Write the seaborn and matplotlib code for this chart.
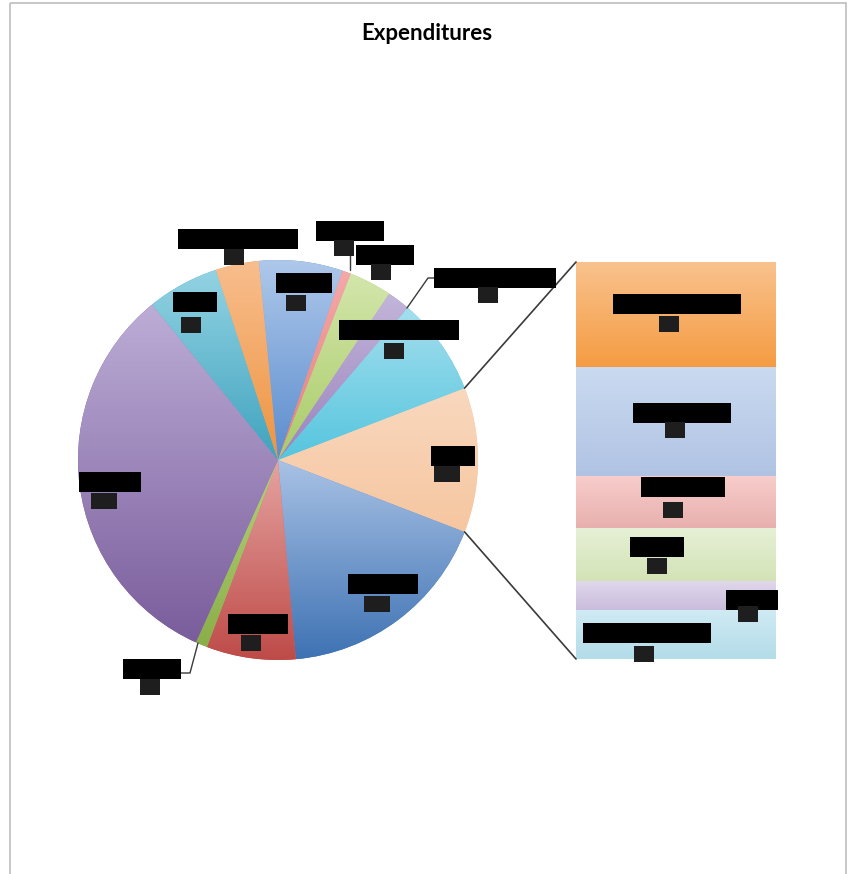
import numpy as np
import matplotlib
matplotlib.use("Agg")
import matplotlib.pyplot as plt
import matplotlib.colors as mcolors
from matplotlib.patches import ConnectionPatch, Rectangle
import seaborn as sns

# --- data (percent of total expenditures) ---
# main pie slices, clockwise starting after the "Other" slice
pie_names = ["Personnel", "Benefits", "Mileage", "Program", "Taxes",
             "Professional Fees", "Utilities", "Insurance", "Postage",
             "Equipment Rental", "Contract Services"]
pie_values = [17.7, 7.2, 0.95, 32.4, 5.8, 3.5, 6.75, 0.7, 3.45, 1.85, 7.9]

# slices split out into the bar (top to bottom)
bar_names = ["Staff Development", "Printing Costs", "Publications",
             "Phones", "Capital", "Computer Supplies"]
bar_values = [3.1, 3.2, 1.55, 1.55, 0.85, 1.45]

other_name = "Other"

# --- styles ---
pie_tops = ["#F9D8BE", "#A9C2E5", "#E5A3A1", "#B5D27A", "#BCADD6", "#93D3E3",
            "#F8BE8E", "#AEC8EA", "#F4A9A8", "#D3E6AC", "#C3B5DA", "#A5DFEE"]
pie_bottoms = ["#F6C6A0", "#3E72B3", "#BE4B48", "#8AAE49", "#7A5D9C", "#3FA3BE",
               "#EE9440", "#5B8CCE", "#E57E7C", "#A9CB67", "#9A83BE", "#55C5DE"]
bar_tops = ["#F9C28E", "#CADAF0", "#F8CDCC", "#E6F0D6", "#E0D8EC", "#D0EBF4"]
bar_bottoms = ["#F59C42", "#B0C3E3", "#E7B0AE", "#D3E3B6", "#C9BCDC", "#B3DCE9"]

# label layout in figure pixels: (name centre, value centre)
pie_label_pos = [((453, 456), (447, 474)),   # Other
                 ((383, 584), (377, 604)), ((258, 624), (251, 643)),
                 ((152, 669), (150, 687)), ((110, 482), (104, 501)),
                 ((195, 302), (191, 325)), ((238, 239), (234, 257)),
                 ((304, 283), (296, 303)), ((350, 231), (344, 248)),
                 ((385, 255), (381, 272)), ((495, 278), (488, 295)),
                 ((399, 330), (394, 351))]
bar_label_pos = [((677, 304), (669, 324)), ((682, 413), (675, 430)),
                 ((683, 487), (673, 510)), ((657, 547), (657, 566)),
                 ((752, 600), (748, 614)), ((647, 633), (644, 654))]
leaders = [[(350, 250), (350, 270)],
           [(438, 278), (428, 278), (407, 308)],
           [(180, 673), (190, 673), (198, 643)]]

W, H = 853, 874


def gradient_fill(ax, patch, top, bottom, extent):
    t = np.linspace(0, 1, 256)[:, None, None]
    img = np.array(mcolors.to_rgb(top)) * (1 - t) + np.array(mcolors.to_rgb(bottom)) * t
    im = ax.imshow(img, extent=extent, origin="upper", aspect="auto",
                   interpolation="bilinear", zorder=patch.get_zorder() + 0.1)
    im.set_clip_path(patch)


def redacted_label(ax, name, value, pos):
    (nx, ny), (vx, vy) = pos
    ax.text(nx, ny, name, ha="center", va="center", fontsize=10.5, color="black",
            bbox=dict(boxstyle="square,pad=0.22", fc="black", ec="none"))
    ax.text(vx, vy, value, ha="center", va="center", fontsize=8, color="#1e1e1e",
            bbox=dict(boxstyle="square,pad=0.22", fc="#1e1e1e", ec="none"))


sns.set_theme(style="white")
plt.rcParams["font.family"] = ["Lato", "DejaVu Sans"]

fig = plt.figure(figsize=(W / 100, H / 100), dpi=100)
fig.patch.set_facecolor("white")

# --- pie ---
other_value = sum(bar_values)
values = [other_value] + pie_values
names = [other_name] + pie_names
total = sum(values)
ax_pie = fig.add_axes([78 / W, (H - 660) / H, 400 / W, 400 / H])
start = 360 * other_value / total / 2
wedges, _ = ax_pie.pie(values, startangle=start, counterclock=False,
                       colors=pie_bottoms, wedgeprops=dict(linewidth=0))
for w, top, bot in zip(wedges, pie_tops, pie_bottoms):
    th = np.radians(np.linspace(w.theta1, w.theta2, 100))
    xs = np.concatenate([[0], np.cos(th)])
    ys = np.concatenate([[0], np.sin(th)])
    gradient_fill(ax_pie, w, top, bot, (xs.min(), xs.max(), ys.min(), ys.max()))
ax_pie.set_xlim(-1.0, 1.0)
ax_pie.set_ylim(-1.0, 1.0)
ax_pie.set_aspect("equal")
ax_pie.axis("off")

# --- bar of the "Other" slice ---
ax_bar = fig.add_axes([576 / W, (H - 659) / H, 200 / W, 397 / H])
stack_vals = bar_values[::-1]
bottoms = np.concatenate([[0], np.cumsum(stack_vals)[:-1]])
bars = ax_bar.bar(0, stack_vals, bottom=bottoms, width=1, color=bar_bottoms[::-1],
                  linewidth=0)
for b, top, bot in zip(bars, bar_tops[::-1], bar_bottoms[::-1]):
    x0, y0 = b.get_x(), b.get_y()
    gradient_fill(ax_bar, b, top, bot, (x0, x0 + b.get_width(), y0, y0 + b.get_height()))
ax_bar.set_xlim(-0.5, 0.5)
ax_bar.set_ylim(0, other_value)
ax_bar.axis("off")

# connector lines from the "Other" slice to the bar
half = np.radians(start)
for sgn, yb in [(1, other_value), (-1, 0)]:
    con = ConnectionPatch(xyA=(np.cos(half), sgn * np.sin(half)), coordsA=ax_pie.transData,
                          xyB=(-0.5, yb), coordsB=ax_bar.transData,
                          color="#3a3a3a", lw=1.2)
    fig.add_artist(con)

# --- overlay: frame, title, labels ---
ax_lab = fig.add_axes([0, 0, 1, 1], zorder=5)
ax_lab.set_xlim(0, W)
ax_lab.set_ylim(H, 0)
ax_lab.patch.set_alpha(0)
ax_lab.axis("off")
ax_lab.add_patch(Rectangle((10, 3), 836, 890, fc="none", ec="#bdbdbd", lw=1.2))
ax_lab.text(427, 33, "Expenditures", ha="center", va="center",
            fontsize=16, fontweight="bold", color="black")

for name, v, pos in zip(names, values, pie_label_pos):
    redacted_label(ax_lab, name, f"{v:.0f}%", pos)
for name, v, pos in zip(bar_names, bar_values, bar_label_pos):
    redacted_label(ax_lab, name, f"{v:.0f}%", pos)
for pts in leaders:
    xs, ys = zip(*pts)
    ax_lab.plot(xs, ys, color="#3a3a3a", lw=1)

fig.savefig("out.png", dpi=100)
